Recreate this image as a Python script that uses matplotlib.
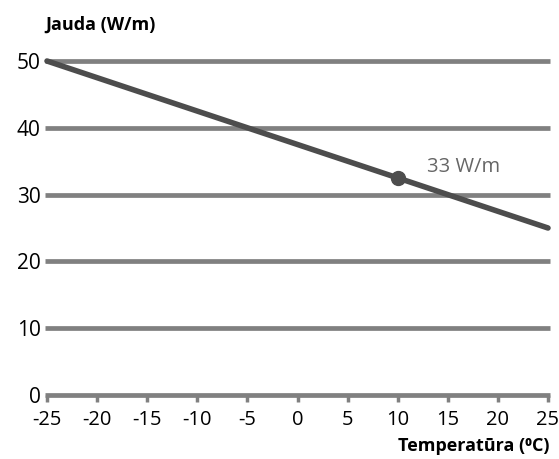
import matplotlib
matplotlib.use('Agg')
import matplotlib.pyplot as plt

plt.rcParams['font.family'] = ['Open Sans', 'DejaVu Sans']

# Data
temps = [-25, 25]
power = [50, 25]
point_temp = 10
point_power = 32.5
point_label = '33 W/m'
x_ticks = [-25, -20, -15, -10, -5, 0, 5, 10, 15, 20, 25]
y_ticks = [0, 10, 20, 30, 40, 50]

fig = plt.figure(figsize=(5.59, 4.59), dpi=100)
ax = fig.add_axes([45 / 559, 1 - 395 / 459, 505 / 559, 334 / 459])
ax.set_xlim(-25.2, 25.2)
ax.set_ylim(0, 50)

# horizontal grid lines (0 acts as axis)
for y in y_ticks:
    ax.axhline(y, color='#808080', lw=3.4, zorder=1, solid_capstyle='butt', clip_on=False)

ax.plot(temps, power, color='#4d4d4d', lw=4, solid_capstyle='round', zorder=3, clip_on=False)
ax.plot([point_temp], [point_power], 'o', color='#4d4d4d', ms=10, zorder=4)
ax.text(12.9, 34.1, point_label, color='#666666', fontsize=14.5, va='center', ha='left')

for s in ax.spines.values():
    s.set_visible(False)

ax.set_xticks(x_ticks)
ax.set_xticklabels([str(t) for t in x_ticks], fontsize=14.5)
ax.set_yticks(y_ticks)
ax.set_yticklabels([str(t) for t in y_ticks], fontsize=15)
ax.tick_params(axis='x', length=5, width=2.5, color='#808080', pad=6)
ax.tick_params(axis='y', length=0, pad=3)

fig.text(45 / 559, 1 - 25 / 459, 'Jauda (W/m)', fontsize=13, fontweight='bold',
         ha='left', va='center')
fig.text(550 / 559, 1 - 446 / 459, 'Temperatūra (⁰C)', fontsize=13, fontweight='bold',
         ha='right', va='center')

plt.savefig('out.png', dpi=100)
